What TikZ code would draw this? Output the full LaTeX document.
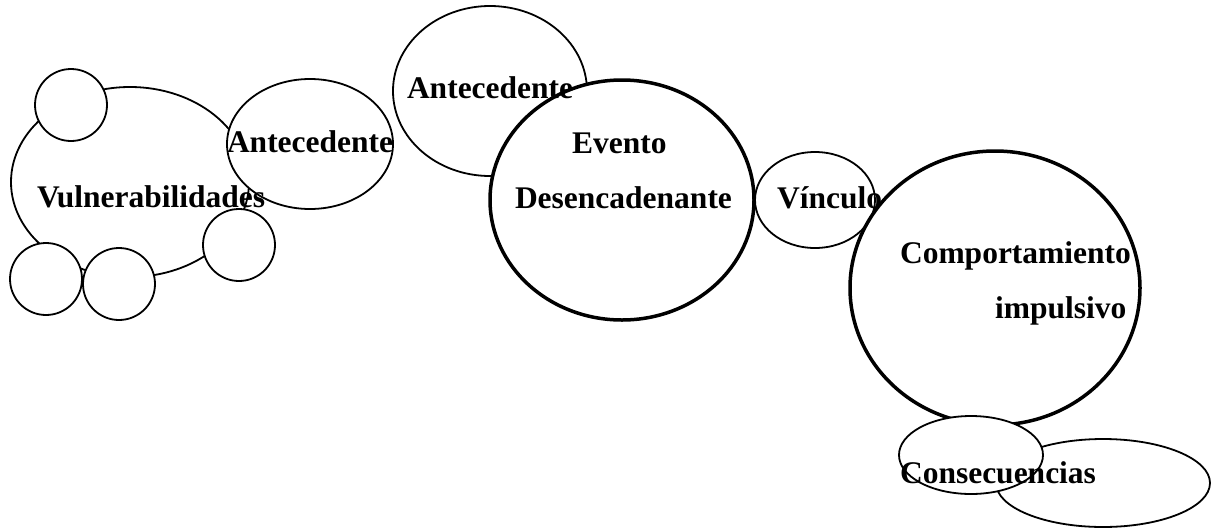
\documentclass[tikz,border=0pt]{standalone}
\usepackage{fontspec}
\setmainfont{Liberation Serif}
\usetikzlibrary{shapes.geometric}
\tikzset{
  blob/.style={ellipse, draw=black, fill=white, line width=1.8pt, inner sep=0pt, outer sep=0pt},
  bigblob/.style={blob, line width=3.5pt},
  lbl/.style={anchor=base west, inner sep=0pt, outer sep=0pt, font=\fontsize{31.5}{36}\selectfont\bfseries, text=black},
}
\begin{document}
\begin{tikzpicture}[x=1pt,y=-1pt]
\useasboundingbox (0,0) rectangle (1211,528);
% Vulnerabilidades cluster
\node[blob, minimum width=238pt, minimum height=190pt] (vul) at (130,182) {};
\node[blob, minimum width=72pt, minimum height=72pt] (c1) at (71,105) {};
\node[blob, minimum width=72pt, minimum height=72pt] (c2) at (239,245) {};
\node[blob, minimum width=72pt, minimum height=72pt] (c3) at (46,279) {};
\node[blob, minimum width=72pt, minimum height=72pt] (c4) at (119,284) {};
% Antecedentes
\node[blob, minimum width=166pt, minimum height=130pt] (ant1) at (310,144) {};
\node[blob, minimum width=194pt, minimum height=170pt] (ant2) at (490,91) {};
% Evento
\node[bigblob, minimum width=264pt, minimum height=240pt] (evt) at (622,200) {};
% Vinculo
\node[blob, minimum width=120pt, minimum height=96pt] (vin) at (815,200) {};
% Comportamiento
\node[bigblob, minimum width=290pt, minimum height=274pt] (comp) at (995,288) {};
% Consecuencias
\node[blob, minimum width=214pt, minimum height=88pt] (cons2) at (1103,483) {};
\node[blob, minimum width=144pt, minimum height=78pt] (cons1) at (971,455) {};
% Labels
\node[lbl] (tvul) at (37,207) {Vulnerabilidades};
\node[lbl] (tant1) at (227,152) {Antecedente};
\node[lbl] (tant2) at (407,98) {Antecedente};
\node[lbl] (tevt1) at (572,153) {Evento};
\node[lbl] (tevt2) at (515,208) {Desencadenante};
\node[lbl] (tvin) at (777,208) {Vínculo};
\node[lbl] (tcomp1) at (900,263) {Comportamiento};
\node[lbl] (tcomp2) at (995,318) {impulsivo};
\node[lbl] (tcons) at (900,483) {Consecuencias};
\end{tikzpicture}
\end{document}
